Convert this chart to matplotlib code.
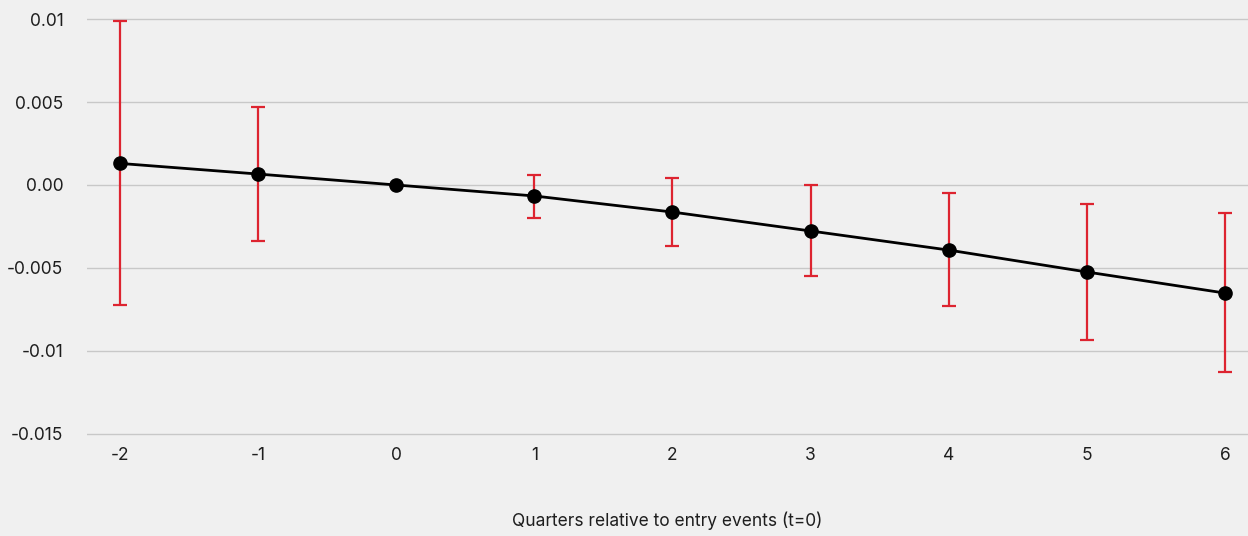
import matplotlib.pyplot as plt

# Event-study estimates and 95% CI bounds
quarters = [-2, -1, 0, 1, 2, 3, 4, 5, 6]
coef = [0.0013, 0.00066, 0.0, -0.00066, -0.00163, -0.00277, -0.00392, -0.00524, -0.00651]
ci_high = [0.00988, 0.0047, 0.0, 0.0006, 0.00042, 0.0, -0.00048, -0.00114, -0.00169]
ci_low = [-0.00723, -0.00337, 0.0, -0.00199, -0.00367, -0.00548, -0.00729, -0.00934, -0.01127]

ytick_vals = [0.01, 0.005, 0.0, -0.005, -0.01, -0.015]
ytick_labels = ["0.01", "0.005", "0.00", "-0.005", "-0.01", "-0.015"]

plt.rcParams['font.family'] = ['Inter', 'DejaVu Sans']
bg = "#f0f0f0"

fig = plt.figure(figsize=(12.48, 5.36), dpi=100, facecolor=bg)
ax = fig.add_axes([0.0697, 0.1866, 0.9303, 0.8134], facecolor=bg)

err_low = [c - l for c, l in zip(coef, ci_low)]
err_high = [h - c for c, h in zip(coef, ci_high)]
ax.errorbar(quarters, coef, yerr=[err_low, err_high], fmt="none",
            ecolor="#dd2430", elinewidth=1.6, capsize=5, capthick=1.6, zorder=2)
ax.plot(quarters, coef, color="black", linewidth=2, marker="o",
        markersize=9.5, zorder=3)

ax.set_xlim(-2.239, 6.167)
ax.set_ylim(-0.01512, 0.011145)
ax.set_xticks(quarters)
ax.set_xticklabels([str(q) for q in quarters])
ax.set_yticks(ytick_vals)
ax.set_yticklabels(ytick_labels)
ax.tick_params(axis="both", length=0, labelsize=12.5, colors="#1e1e1e")
ax.tick_params(axis="y", pad=17)
ax.tick_params(axis="x", pad=8)
ax.grid(axis="y", color="#c8c8c8", linewidth=1)
ax.set_axisbelow(True)
for s in ax.spines.values():
    s.set_visible(False)

ax.set_xlabel("Quarters relative to entry events (t=0)", fontsize=12.5,
              color="#1e1e1e", labelpad=34)

fig.savefig("out.png", dpi=100, facecolor=bg)
